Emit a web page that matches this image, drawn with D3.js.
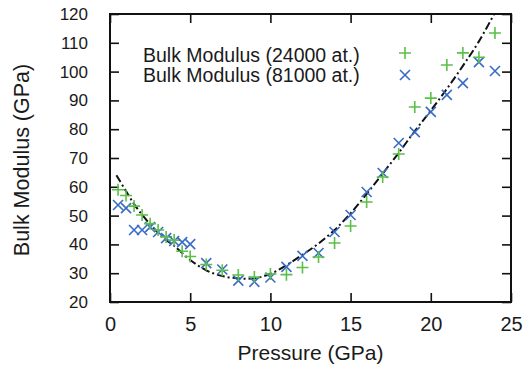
<!DOCTYPE html>
<html>
<head>
<meta charset="utf-8">
<script src="https://cdn.jsdelivr.net/npm/d3@7"></script>
<style>
  body { margin: 0; background: white; }
  text { font-family: "Liberation Sans", Arial, sans-serif; fill: #1a1a1a; }
</style>
</head>
<body>
<script>
// Bulk modulus vs pressure, two system sizes + fitted curve

// data
var pressure = [0.5, 1, 1.5, 2, 2.5, 3, 3.5, 4, 4.5, 5, 6, 7, 8, 9, 10, 11, 12, 13, 14, 15, 16, 17, 18, 19, 20, 21, 22, 23, 24];
var bulk24000 = [59, 57, 53.3, 50.2, 47.2, 45, 42.6, 41.5, 37.6, 35.8, 33, 31, 29.4, 28.7, 29.7, 29.5, 32, 35.6, 40.5, 46.4, 54.7, 63.4, 71.4, 87.7, 90.8, 102.3, 106.5, 105, 113.4];
var bulk81000 = [53.7, 52.6, 45, 45, 46, 44.3, 42.2, 41.2, 40.8, 40.1, 33.5, 31.3, 27.4, 27, 28.5, 32.2, 36, 37, 44.3, 50.2, 58.2, 64.8, 75.2, 79, 86, 91.9, 96, 103.3, 100.2];

// fitted curve (dash-dot)
var fitP = [0.4, 1, 1.5, 2, 2.5, 3, 3.5, 4, 5, 6, 7, 8, 9, 10, 11, 12, 13, 14, 15, 16, 17, 18, 19, 20, 21, 22, 23, 24];
var fitB = [64, 58.5, 54, 50.3, 47, 44, 41.5, 39.5, 34.6, 31, 29, 28.2, 28.2, 29.8, 32.8, 36.4, 40.3, 45, 50.8, 57.5, 64.6, 71.8, 79.3, 86.5, 94, 102, 110.5, 120.5];

var legendNames = ["Bulk Modulus (24000 at.)", "Bulk Modulus (81000 at.)"];
var xTicks = [0, 5, 10, 15, 20, 25];
var yTicks = [20, 30, 40, 50, 60, 70, 80, 90, 100, 110, 120];

var green = "#5cbf4a";
var blue = "#3a6cc6";

// plot area
var margin = {top: 14, right: 15, bottom: 67, left: 110};
var width = 526 - margin.left - margin.right;
var height = 369 - margin.top - margin.bottom;

var xScale = d3.scaleLinear().domain([0, 25]).range([0, width]);
var yScale = d3.scaleLinear().domain([20, 120]).range([height, 0]);

var svg = d3.select("body").append("svg")
    .attr("width", 526)
    .attr("height", 369)
    .append("g")
    .attr("transform", "translate(" + margin.left + "," + margin.top + ")");

svg.append("clipPath").attr("id", "clip")
    .append("rect").attr("width", width).attr("height", height);

// axes, ticks pointing inward
var xAxis = d3.axisBottom(xScale).tickValues(xTicks).tickSize(-9).tickPadding(15);
var yAxis = d3.axisLeft(yScale).tickValues(yTicks).tickSize(-9).tickPadding(22);
var xTop = d3.axisTop(xScale).tickValues(xTicks).tickSize(-9).tickFormat("");
var yRight = d3.axisRight(yScale).tickValues(yTicks).tickSize(-9).tickFormat("");

svg.append("g").attr("class", "x axis")
    .attr("transform", "translate(0," + height + ")")
    .call(xAxis)
    .selectAll("text").style("font-size", "20px");
svg.append("g").attr("class", "y axis")
    .call(yAxis)
    .selectAll("text").style("font-size", "17px");
svg.append("g").call(xTop);
svg.append("g").attr("transform", "translate(" + width + ",0)").call(yRight);

svg.selectAll(".domain").remove();
svg.selectAll(".tick line").attr("stroke", "#111").attr("stroke-width", 1.6);
svg.selectAll(".tick text").attr("fill", "#1a1a1a");

// frame
svg.append("rect")
    .attr("width", width)
    .attr("height", height)
    .attr("fill", "none")
    .attr("stroke", "#111")
    .attr("stroke-width", 2);

// axis titles
svg.append("text")
    .attr("x", width / 2)
    .attr("y", 346)
    .attr("text-anchor", "middle")
    .style("font-size", "21px")
    .text("Pressure (GPa)");

svg.append("text")
    .attr("transform", "rotate(-90)")
    .attr("x", -146)
    .attr("y", -81)
    .attr("text-anchor", "middle")
    .style("font-size", "21.5px")
    .text("Bulk Modulus (GPa)");

// fitted curve
var fit = fitP.map(function(p, i) { return [p, fitB[i]]; });
var line = d3.line()
    .x(function(d) { return xScale(d[0]); })
    .y(function(d) { return yScale(d[1]); })
    .curve(d3.curveCatmullRom);

svg.append("path")
    .datum(fit)
    .attr("clip-path", "url(#clip)")
    .attr("d", line)
    .attr("fill", "none")
    .attr("stroke", "#111")
    .attr("stroke-width", 2)
    .attr("stroke-dasharray", "8,3,2,3");

// marker helpers
function plus(g, cx, cy, r) {
    g.append("path")
        .attr("d", "M" + (cx - r) + "," + cy + "H" + (cx + r) + "M" + cx + "," + (cy - r) + "V" + (cy + r))
        .attr("stroke", green).attr("stroke-width", 1.6).attr("fill", "none");
}
function cross(g, cx, cy, r) {
    g.append("path")
        .attr("d", "M" + (cx - r) + "," + (cy - r) + "L" + (cx + r) + "," + (cy + r) +
                   "M" + (cx - r) + "," + (cy + r) + "L" + (cx + r) + "," + (cy - r))
        .attr("stroke", blue).attr("stroke-width", 1.6).attr("fill", "none");
}

// points
var pts = svg.append("g");
pressure.forEach(function(p, i) {
    cross(pts, xScale(p), yScale(bulk81000[i]), 5);
    plus(pts, xScale(p), yScale(bulk24000[i]), 6);
});

// legend
var legend = svg.append("g");
legend.append("text")
    .attr("x", 33).attr("y", 48)
    .style("font-size", "19.5px")
    .text(legendNames[0]);
legend.append("text")
    .attr("x", 33).attr("y", 68)
    .style("font-size", "19.5px")
    .text(legendNames[1]);
plus(legend, 295, 39, 6);
cross(legend, 295, 61, 5);
</script>
</body>
</html>
